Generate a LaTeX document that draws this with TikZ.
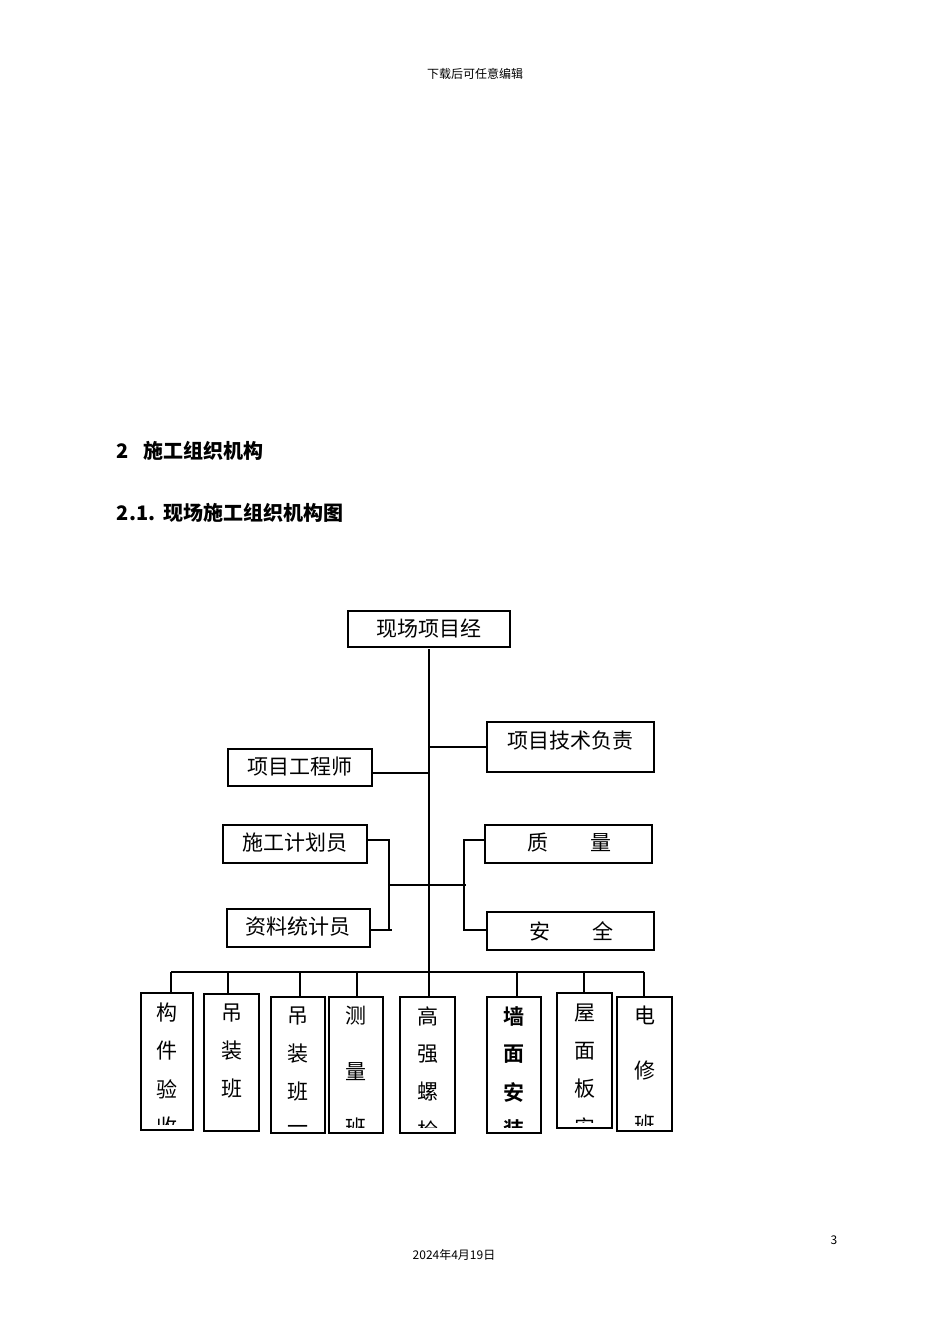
\documentclass[tikz,border=0pt]{standalone}
\usepackage{fontspec}
\newfontfamily\cjk{Noto Sans CJK SC}
\newfontfamily\cjkb{Noto Sans CJK SC Bold}
\begin{document}
\begin{tikzpicture}[x=1pt,y=-1pt,line width=1.2pt,
  box/.style={draw,line width=1.3pt},
  lbl/.style={font=\cjk\fontsize{21}{21}\selectfont,inner sep=0pt},
  ln/.style={line width=1.3pt}]
\useasboundingbox (0,0) rectangle (950,1344);
\node[font=\cjk\fontsize{12}{12}\selectfont] (hdr) at (475,74) {下载后可任意编辑};
\node[font=\cjk\bfseries\fontsize{20}{20}\selectfont,anchor=west] (h1) at (113,451) {2\hspace{14pt}施工组织机构};
\node[font=\cjk\bfseries\fontsize{20}{20}\selectfont,anchor=west] (h2) at (113,513) {2.1.\hspace{8pt}现场施工组织机构图};
\node[font=\cjk\fontsize{12}{12}\selectfont] (pg) at (834,1240) {3};
\node[font=\cjk\fontsize{12}{12}\selectfont] (dt) at (454,1255) {2024年4月19日};

% top boxes
\draw[box] (348,611) rectangle (510,647); \node[lbl] (m) at (429,629) {现场项目经};
\draw[box] (487,722) rectangle (654,772); \node[lbl] (t) at (570,741) {项目技术负责};
\draw[box] (228,749) rectangle (372,786); \node[lbl] (e) at (300,767) {项目工程师};
\draw[box] (223,825) rectangle (367,863); \node[lbl] (p) at (295,843) {施工计划员};
\draw[box] (485,825) rectangle (652,863); \node[lbl] (q) at (569,843) {质\hspace{42pt}量};
\draw[box] (227,909) rectangle (370,947); \node[lbl] (s) at (298,927) {资料统计员};
\draw[box] (487,912) rectangle (654,950); \node[lbl] (a) at (571,931) {安\hspace{42pt}全};

% trunk and branches
\coordinate (tt) at (429,649); \coordinate (tb) at (429,972);
\draw[ln] (tt) -- (tb);
\draw[ln] (429,747) -- (487,747);
\draw[ln] (372,773) -- (429,773);
\draw[ln] (367,840) -- (389,840) -- (389,930) -- (392,930);
\draw[ln] (370,930) -- (389,930);
\draw[ln] (485,840) -- (464,840) -- (464,930) -- (487,930);
\draw[ln] (389,885) -- (466,885);
\draw[ln] (171,972) -- (644,972);

% bottom boxes: x1,x2,y1,y2,stub,chars,ys
\foreach \xa/\xb/\ya/\yb/\sx/\chars/\ys/\bf [count=\k] in {
 141/193/993/1130/171/{构,件,验,收}/{1013,1051,1089,1127}/0,
 204/259/994/1131/228/{吊,装,班}/{1013,1051,1089}/0,
 271/325/997/1133/300/{吊,装,班,一}/{1016,1054,1092,1130}/0,
 329/383/997/1133/357/{测,量,班}/{1016,1072,1128}/0,
 400/455/997/1133/429/{高,强,螺,栓}/{1016,1054,1092,1130}/0,
 487/541/997/1133/517/{墙,面,安,装}/{1016,1054,1092,1130}/1,
 557/612/993/1128/584/{屋,面,板,安}/{1013,1051,1089,1127}/0,
 617/672/997/1131/644/{电,修,班}/{1015,1070,1125}/0} {
  \draw[ln] (\sx,972) -- (\sx,\ya);
  \begin{scope}
   \clip (\xa,\ya) rectangle (\xb,\yb-6);
   \foreach \c [count=\i] in \chars {
     \pgfmathsetmacro\yy{{\ys}[\i-1]}
     \ifnum\bf=1
      \node[lbl,font=\cjkb\fontsize{21}{21}\selectfont] (c\k-\i) at ({(\xa+\xb)/2},\yy) {\c};
     \else
      \node[lbl] (c\k-\i) at ({(\xa+\xb)/2},\yy) {\c};
     \fi
   }
  \end{scope}
  \draw[box] (\xa,\ya) rectangle (\xb,\yb);
}
\end{tikzpicture}
\end{document}
